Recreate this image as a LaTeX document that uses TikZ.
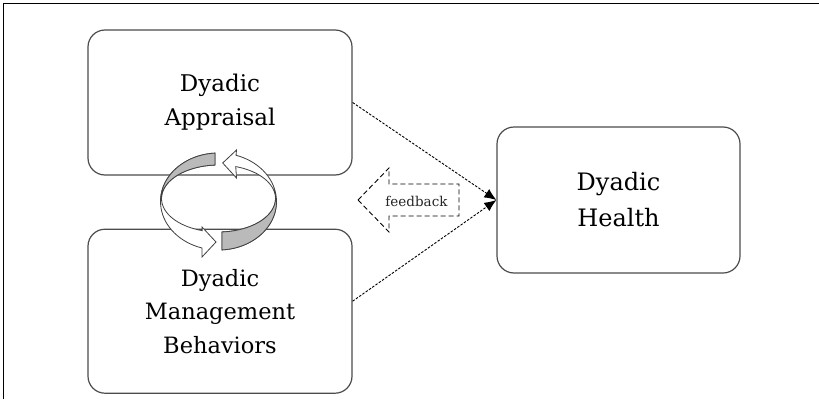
\documentclass[tikz,border=0pt]{standalone}
\usepackage{fontspec}
\setmainfont{DejaVu Serif}
\usepackage{tikz}
\usetikzlibrary{positioning,calc,arrows.meta}

\begin{document}
\begin{tikzpicture}[x=1pt,y=-1pt,
   box/.style={draw=black!70, line width=1.2pt, rounded corners=17pt, align=center},
   link/.style={line width=.9pt, dash pattern=on 2.5pt off 1.5pt, -{Latex[length=12pt,width=10pt]}},
   ring/.style={draw=black!75, line width=.8pt, fill=white},
   back/.style={draw=black!75, line width=.8pt, fill=black!27}]

\useasboundingbox (0,0) rectangle (819,399);
\draw[line width=1.5pt] (3.5,399) |- (819,3.5);

\node[
   box,
   minimum width = 264pt,
   minimum height = 145pt,
   font = \fontsize{23}{34}\selectfont
] (appraisal) at (220,102.5) {Dyadic\\Appraisal};
\node[
   box,
   minimum width = 264pt,
   minimum height = 164pt,
   font = \fontsize{22.5}{33.5}\selectfont,
   below = 53pt of appraisal
] (management) {Dyadic\\Management\\Behaviors};
\node[
   box,
   minimum width = 243pt,
   minimum height = 146pt,
   font = \fontsize{24}{36}\selectfont
] (health) at (618.5,200) {Dyadic\\Health};

% Circular arrows
\draw[ring] plot[variable=\t, domain=93.5:253.5, samples=40] ({218.5+58*cos(\t)},{201.5-48.5*sin(\t)})
   -- (202,257) -- (216,242) -- (202,227)
   -- plot[variable=\t, domain=253.5:93.5, samples=40] ({218.5+57*cos(\t)},{198.5-33.5*sin(\t)}) -- cycle;
\draw[back] plot[variable=\t, domain=93.5:180, samples=30] ({218.5+58*cos(\t)},{201.5-48.5*sin(\t)})
   -- plot[variable=\t, domain=180:93.5, samples=30] ({218.5+57*cos(\t)},{198.5-33.5*sin(\t)}) -- cycle;
\draw[ring] plot[variable=\t, domain=273.5:432.4, samples=40] ({218.5+58*cos(\t)},{201.5-48.5*sin(\t)})
   -- (236.5,150) -- (222.7,163) -- (236.5,178)
   -- plot[variable=\t, domain=432.4:273.5, samples=40] ({218.5+57*cos(\t)},{198.5-33.5*sin(\t)}) -- cycle;
\draw[back] plot[variable=\t, domain=273.5:360, samples=30] ({218.5+58*cos(\t)},{201.5-48.5*sin(\t)})
   -- plot[variable=\t, domain=360:273.5, samples=30] ({218.5+57*cos(\t)},{198.5-33.5*sin(\t)}) -- cycle;

% Feedback arrow
\draw[line width=.9pt, dash pattern=on 5pt off 3pt]
   (358,200) -- (389,168) -- (389,184) -- (459,184) -- (459,216) -- (389,216) -- (389,232) -- cycle;
\node[text=black!85, font=\fontsize{13.5}{16}\selectfont] (feedback) at (416.5,201) {feedback};

% Connecting Arrows
\draw[link] (appraisal.east) -- (health.west);
\draw[link] ($(management.east)+(0,-10)$) -- (health.west);

\end{tikzpicture}
\end{document}
